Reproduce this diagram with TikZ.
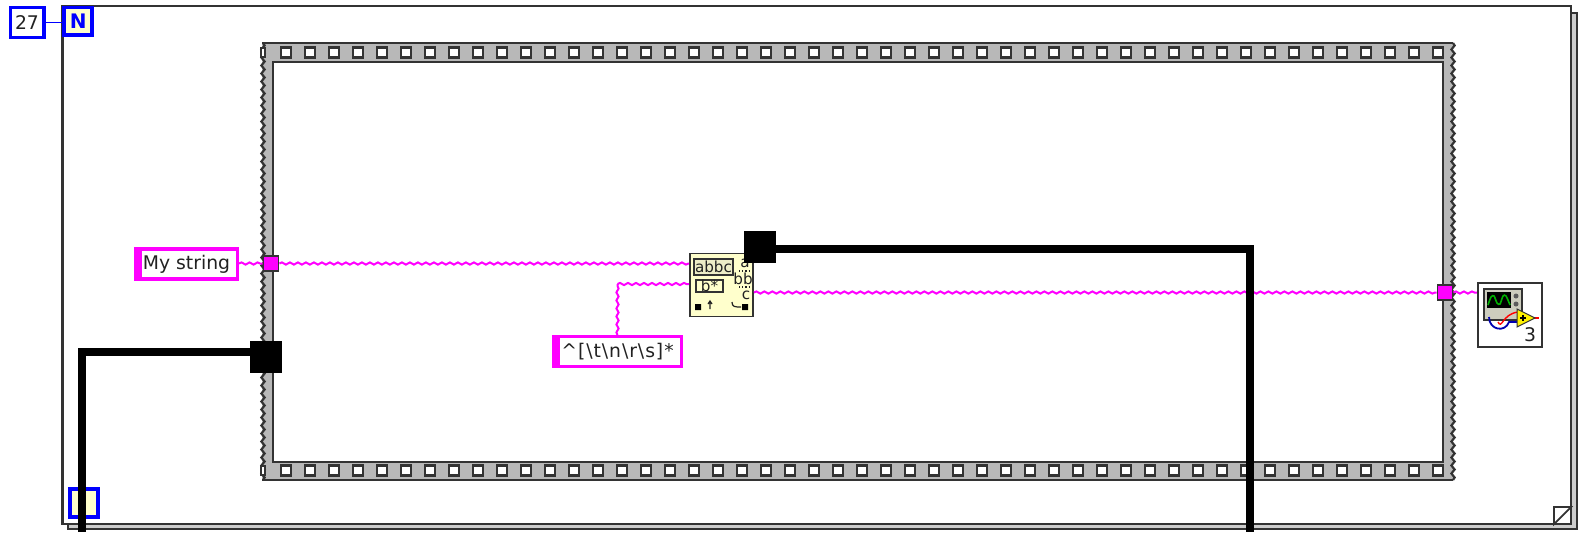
\documentclass[tikz,border=0pt]{standalone}
\usepackage{fontspec}
\setmainfont{DejaVu Sans}
\usepackage{xcolor}
\usetikzlibrary{decorations.pathmorphing}
\definecolor{strc}{HTML}{FF00FF}
\definecolor{numc}{HTML}{0000FF}
\definecolor{palec}{HTML}{FFFFCC}
\definecolor{edgec}{HTML}{333333}
\definecolor{seqc}{HTML}{B8B8B8}
\definecolor{inkc}{HTML}{222222}
\tikzset{
  strwire/.style={strc,line width=1pt,decorate,decoration={snake,amplitude=0.55pt,segment length=4pt}},
  blkwire/.style={black,line width=4pt,line join=miter},
  blkpad/.style={fill=black,inner sep=0,minimum size=16pt},
  strcst/.style={draw=strc,fill=white,line width=1.75pt,inner sep=0,text=inkc,font=\fontsize{9.4}{11}\selectfont},
  tunnelbox/.style={draw=edgec,fill=strc,line width=0.8pt,inner sep=0,minimum size=7.6pt},
  bluebox/.style={draw=numc,line width=1.8pt,inner sep=0},
  holebox/.style={draw=edgec,fill=white,line width=1.1pt},
  iconbox/.style={draw=edgec,line width=0.9pt,inner sep=0},
  tinytxt/.style={inner sep=0,text=inkc,font=\fontsize{7.6}{9}\selectfont},
  scallop/.style={edgec,line width=1.1pt,decorate,decoration={snake,amplitude=0.8pt,segment length=4pt}},
}
\begin{document}
\begin{tikzpicture}[x=0.5pt,y=-0.5pt]
  \useasboundingbox (0,0) rectangle (1578,532);
  \fill[white] (0,0) rectangle (1578,532);
  % stacked loop pages behind the front one
  \draw[edgec,fill=seqc!70,line width=0.9pt] (68,13) rectangle (1577,529);
  \draw[edgec,fill=white,line width=1.1pt] (62.5,6) rectangle (1571,524);
  \draw[edgec,line width=0.9pt,fill=white] (1554,524) -- (1554,507) -- (1571,507) -- cycle;

  % sequence frame
  \fill[seqc] (262,43) rectangle (1453,480);
  \draw[edgec,line width=1pt] (262,43) -- (1453,43) (262,480) -- (1453,480);
  \draw[edgec,fill=white,line width=1.1pt] (273,62) rectangle (1443,462);
  \draw[scallop] (263,43) -- (263,480);
  \draw[scallop] (1453,43) -- (1453,480);
  \foreach \xpos in {0,...,48}{
    \draw[holebox] (281+24*\xpos,47.5) rectangle +(10,10);
    \draw[holebox] (281+24*\xpos,465.5) rectangle +(10,10);
  }
  \foreach \ypos in {48,466}
    \draw[holebox] (261,\ypos) rectangle +(4,9);

  % loop terminals
  \node[bluebox,fill=white,minimum width=16.7pt,minimum height=14.9pt,text=inkc,font=\fontsize{9.4}{11}\selectfont] (cnt27) at (27,22.4) {27};
  \node[bluebox,fill=palec,minimum width=14pt,minimum height=13.8pt,text=numc,font=\bfseries\fontsize{10}{12}\selectfont] (loopN) at (78.2,21.2) {N};
  \draw[numc,line width=0.8pt] (cnt27.east) -- (cnt27.east -| loopN.west);
  \node[bluebox,fill=palec,minimum size=14.2pt] (loopI) at (84,503) {};

  % string constants and tunnels
  \node[strcst,minimum width=50.8pt,minimum height=15pt] (myStr) at (186.5,264) {My string};
  \fill[strc] (134,247) rectangle (142,281);
  \node[strcst,minimum width=63.8pt,minimum height=14.8pt] (regexStr) at (617.5,351.5) {\addfontfeature{LetterSpace=5}\textasciicircum[\textbackslash t\textbackslash n\textbackslash r\textbackslash s]*};
  \fill[strc] (552,335) rectangle (560,368);
  \node[tunnelbox] (tunIn) at (271,263.5) {};
  \node[tunnelbox] (tunOut) at (1445,292.5) {};

  % match pattern function
  \node[iconbox,fill=palec,minimum size=31.5pt] (matchFn) at (721.5,285) {};
  \node[iconbox,fill=palec!75!seqc,minimum width=19.5pt,minimum height=8pt,font=\fontsize{7.6}{9}\selectfont,text=inkc] (abbcBox) at (713.5,267) {abbc};
  \node[iconbox,fill=palec,minimum width=13.5pt,minimum height=6pt,font=\fontsize{7.6}{9}\selectfont,text=inkc] (bstarBox) at (709.5,286) {b*};
  \node[tinytxt] (outA) at (745,263) {a};
  \node[tinytxt] (outB) at (743,279) {bb};
  \node[tinytxt] (outC) at (746,295) {c};
  \draw[inkc,line width=0.6pt,densely dotted] (739,271) -- (751,271) (739,287) -- (751,287);
  \fill[black] (695,304) rectangle (701,310) (742,304) rectangle (748,310);
  \draw[inkc,line width=0.6pt] (710,309) -- (710,302) (708,304) -- (710,301) -- (712,304);
  \draw[inkc,line width=0.6pt] (732,302) .. controls (732,307) and (735,307) .. (741,307);

  % string wires
  \coordinate (patIn) at (matchFn.west |- 0,284);
  \coordinate (patBend) at (regexStr.north |- patIn);
  \draw[strwire] (myStr.east |- tunIn) -- (tunIn.west);
  \draw[strwire] (tunIn.east) -- (tunIn.east -| matchFn.west);
  \draw[strwire] (regexStr.north) -- (patBend);
  \draw[strwire] (patBend) -- (patIn);
  \draw[strwire] (tunOut.west -| matchFn.east) -- (tunOut.west);
  \draw[strwire] (tunOut.east) -- (tunOut.east -| 1478,0);

  % express vi
  \node[iconbox,fill=white,minimum size=32pt] (expVI) at (1510,315) {};
  \draw[edgec,fill=seqc!70!palec,line width=0.8pt] (1484,289) rectangle (1522,320);
  \fill[black] (1487,292) rectangle (1511,308);
  \draw[green!70!black,line width=0.8pt] plot[smooth] coordinates {(1488,305) (1491,297) (1494,296) (1497,303) (1500,304) (1503,296) (1506,296) (1510,305)};
  \fill[seqc!50!black] (1516,296) circle (2.5) (1516,304) circle (2.5);
  \draw[numc!70!black,line width=0.9pt] (1489,317) .. controls (1489,330) and (1505,333) .. (1509,322) -- (1518,322);
  \draw[red,line width=0.7pt] (1498,322) .. controls (1502,330) and (1502,314) .. (1518,312);
  \draw[red,line width=0.7pt] (1533,318) -- (1539,318);
  \draw[edgec,fill=yellow,line width=0.5pt] (1517,309) -- (1535,318) -- (1517,327) -- cycle;
  \draw[black,line width=0.6pt] (1520,318) -- (1526,318) (1523,315) -- (1523,321);
  \node[inner sep=0,text=inkc,font=\fontsize{9.4}{11}\selectfont] (vi3) at (1530,335) {3};

  % thick wires go on top
  \node[blkpad] (padL) at (266,357) {};
  \node[blkpad] (padM) at (760,247) {};
  \coordinate (botL) at (82,532);
  \coordinate (botM) at (1250,532);
  \draw[blkwire] (padL.west |- 0,352) -- (82,352) -- (botL);
  \draw[blkwire] (padM.east |- 0,249) -- (1250,249) -- (botM);
\end{tikzpicture}
\end{document}
